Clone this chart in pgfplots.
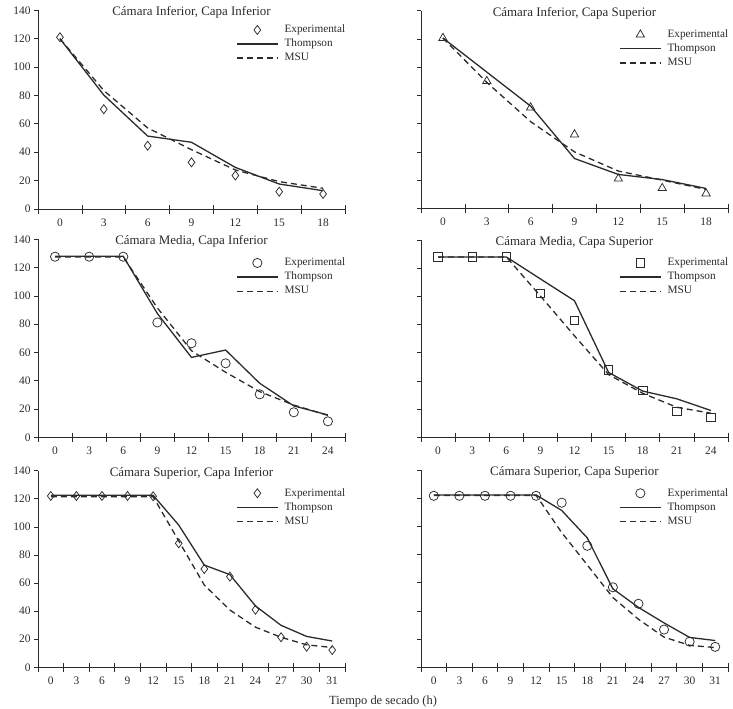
\documentclass[border=0pt]{standalone}
\usepackage{pgfplots}
\pgfplotsset{compat=1.18}
\usepackage{fontspec}
\setmainfont{Liberation Serif}
\definecolor{ink}{gray}{0.17}
\pgfplotsset{
  panel/.style={
    scale only axis, width=307bp, anchor=south west,
    ymin=0, ymax=140, ytick={0,20,...,140},
    axis x line*=bottom, axis y line*=left,
    axis line style={-, draw=ink, line width=0.7bp},
    xtick align=center, ytick align=outside,
    major tick length=4bp, minor tick length=9bp,
    every major x tick/.style={draw=none},
    every minor tick/.style={draw=ink, line width=0.7bp},
    every major y tick/.style={draw=ink, line width=0.7bp},
    tick label style={font=\fontsize{11.5}{13}\selectfont, text=ink},
    xticklabel style={yshift=-4bp},
    /pgf/number format/assume math mode=true,
    every axis title/.style={font=\fontsize{13}{15}\selectfont, text=ink, at={(0.5,1)}, anchor=center, yshift=-2.5bp},
    legend style={draw=none, fill=none, inner sep=0pt, row sep=1.6bp, column sep=3bp,
      font=\fontsize{11.3}{13}\selectfont, text=ink,
      nodes={inner xsep=3bp, inner ysep=1bp, text height=8bp, text depth=2.5bp},
      anchor=north west, at={(0.645,1)}, yshift=-17bp},
    legend cell align=left,
  },
  n7/.style={xmin=-0.5, xmax=6.5, xtick={0,...,6}, minor xtick={-0.5,0.5,...,6.5}, xticklabels={0,3,6,9,12,15,18}},
  n9/.style={xmin=-0.5, xmax=8.5, xtick={0,...,8}, minor xtick={-0.5,0.5,...,8.5}, xticklabels={0,3,6,9,12,15,18,21,24}},
  n12/.style={xmin=-0.5, xmax=11.5, xtick={0,...,11}, minor xtick={-0.5,0.5,...,11.5}, xticklabels={0,3,6,9,12,15,18,21,24,27,30,31}},
  exp/.style={only marks, mark options={draw=ink, line width=0.75bp, solid},
    legend image code/.code={\draw[mark repeat=2,mark phase=2,##1] plot coordinates {(0bp,0bp) (20.5bp,0bp) (41bp,0bp)};}},
  thom/.style={color=ink, line width=1.3bp, solid, no markers,
    legend image code/.code={\draw[##1] (0bp,0bp) -- (41bp,0bp);}},
  msu/.style={color=ink, line width=1.3bp, dash pattern=on 6bp off 4bp, no markers,
    legend image code/.code={\draw[##1] (0bp,0bp) -- (41bp,0bp);}},
}
\begin{document}
\begin{tikzpicture}
\path[use as bounding box] (0,0) rectangle (733bp,-709bp);

% Panel 1
\begin{axis}[panel, n7, at={(38bp,-209bp)}, height=198.7bp,
  title={Cámara Inferior, Capa Inferior}, legend style={yshift=3.8bp}]
\addplot[exp, mark=diamond, mark size=4.5bp] coordinates {(0,121.0) (1,70.3) (2,44.6) (3,32.9) (4,23.6) (5,12.2) (6,10.6)};
\addlegendentry{Experimental}
\addplot[thom] coordinates {(0,120.0) (1,80.3) (2,51.4) (3,47.0) (4,29.3) (5,17.6) (6,12.9)};
\addlegendentry{Thompson}
\addplot[msu] coordinates {(0,120.0) (1,83.5) (2,57.1) (3,41.8) (4,27.5) (5,19.3) (6,14.6)};
\addlegendentry{MSU}
\end{axis}

% Panel 2
\begin{axis}[panel, n7, at={(421bp,-208.5bp)}, height=197.7bp, yticklabels={},
  title={Cámara Inferior, Capa Superior}, legend style={yshift=-0.4bp}]
\addplot[exp, mark=triangle, mark size=4.8bp] coordinates {(0,120.7) (1,90.2) (2,71.5) (3,52.4) (4,21.1) (5,14.4) (6,10.6)};
\addlegendentry{Experimental}
\addplot[thom] coordinates {(0,120.7) (1,96.6) (2,72.5) (3,35.4) (4,24.1) (5,20.5) (6,14.2)};
\addlegendentry{Thompson}
\addplot[msu] coordinates {(0,120.7) (1,89.3) (2,61.5) (3,40.1) (4,26.5) (5,20.1) (6,13.5)};
\addlegendentry{MSU}
\end{axis}

% Panel 3
\begin{axis}[panel, n9, at={(38bp,-437.3bp)}, height=198bp,
  title={Cámara Media, Capa Inferior}, legend style={yshift=-0.2bp}]
\addplot[exp, mark=o, mark size=4.6bp] coordinates {(0,127.7) (1,127.7) (2,127.7) (3,81.2) (4,66.5) (5,52.3) (6,30.4) (7,17.7) (8,11.3)};
\addlegendentry{Experimental}
\addplot[thom] coordinates {(0,128.0) (1,128.0) (2,128.0) (3,87.5) (4,56.5) (5,61.7) (6,38.2) (7,22.2) (8,15.8)};
\addlegendentry{Thompson}
\addplot[msu] coordinates {(0,127.5) (1,127.5) (2,127.5) (3,91.5) (4,61.2) (5,46.0) (6,32.3) (7,22.8) (8,15.5)};
\addlegendentry{MSU}
\end{axis}

% Panel 4
\begin{axis}[panel, n9, at={(421bp,-437.3bp)}, height=197.3bp, yticklabels={},
  title={Cámara Media, Capa Superior}, legend style={yshift=0.5bp}]
\addplot[exp, mark=square, mark size=4.2bp] coordinates {(0,128.1) (1,128.1) (2,128.1) (3,102.3) (4,82.8) (5,47.8) (6,33.4) (7,18.3) (8,14.0)};
\addlegendentry{Experimental}
\addplot[thom] coordinates {(0,128.0) (1,128.0) (2,128.0) (3,112.4) (4,96.9) (5,46.0) (6,32.8) (7,27.3) (8,19.0)};
\addlegendentry{Thompson}
\addplot[msu] coordinates {(0,128.0) (1,128.0) (2,128.0) (3,100.3) (4,72.0) (5,44.5) (6,31.2) (7,21.3) (8,17.1)};
\addlegendentry{MSU}
\end{axis}

% Panel 5
\begin{axis}[panel, n12, at={(38bp,-667.3bp)}, height=196.6bp,
  title={Cámara Superior, Capa Inferior}, legend style={yshift=0.9bp}]
\addplot[exp, mark=diamond, mark size=4.5bp] coordinates {(0,122.0) (1,122.0) (2,122.0) (3,122.0) (4,121.8) (5,88.3) (6,70.0) (7,64.6) (8,41.0) (9,21.4) (10,14.7) (11,12.3)};
\addlegendentry{Experimental}
\addplot[thom] coordinates {(0,122.5) (1,122.5) (2,122.5) (3,122.5) (4,122.5) (5,101.3) (6,72.8) (7,66.0) (8,43.7) (9,29.9) (10,22.0) (11,18.7)};
\addlegendentry{Thompson}
\addplot[msu] coordinates {(0,121.5) (1,121.5) (2,121.5) (3,121.5) (4,121.5) (5,90.0) (6,58.6) (7,40.8) (8,28.6) (9,21.4) (10,16.0) (11,14.1)};
\addlegendentry{MSU}
\end{axis}

% Panel 6
\begin{axis}[panel, n12, at={(421bp,-667.3bp)}, height=197.3bp, yticklabels={},
  title={Cámara Superior, Capa Superior}, legend style={yshift=0.2bp}]
\addplot[exp, mark=o, mark size=4.6bp] coordinates {(0,121.7) (1,121.7) (2,121.7) (3,121.7) (4,121.7) (5,116.8) (6,86.2) (7,56.8) (8,45.1) (9,26.8) (10,18.2) (11,14.5)};
\addlegendentry{Experimental}
\addplot[thom] coordinates {(0,122.3) (1,122.3) (2,122.3) (3,122.3) (4,122.3) (5,111.3) (6,91.8) (7,55.7) (8,42.5) (9,31.5) (10,21.2) (11,19.0)};
\addlegendentry{Thompson}
\addplot[msu] coordinates {(0,122.0) (1,122.0) (2,122.0) (3,122.0) (4,122.0) (5,95.6) (6,72.6) (7,49.5) (8,34.1) (9,21.4) (10,15.6) (11,14.0)};
\addlegendentry{MSU}
\end{axis}

\node[font=\fontsize{12.5}{14}\selectfont, text=ink] at (383bp,-701bp) {Tiempo de secado (h)};
\end{tikzpicture}
\end{document}
